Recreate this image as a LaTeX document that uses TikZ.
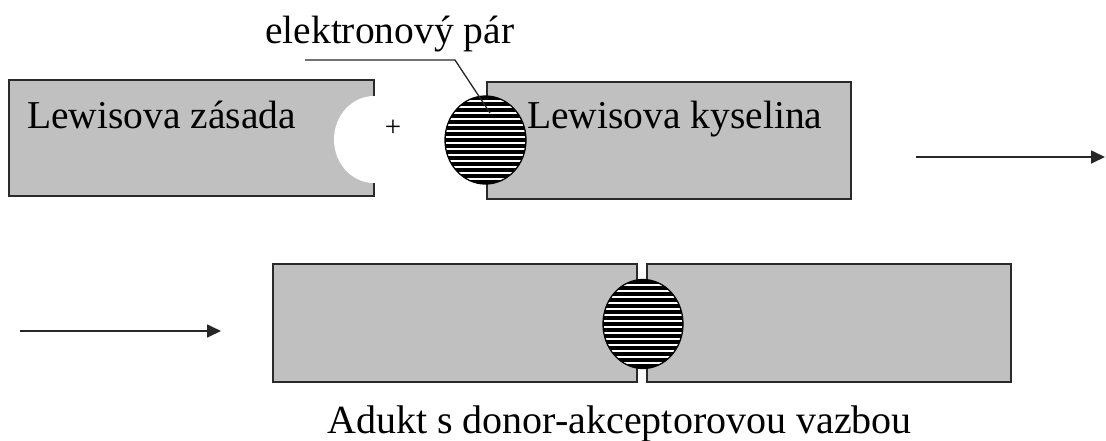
\documentclass[tikz,border=0pt]{standalone}
\usepackage{fontspec}
\setmainfont{Liberation Serif}
\usetikzlibrary{shapes.geometric,arrows.meta}
\definecolor{boxgray}{HTML}{C0C0C0}
\definecolor{edge}{HTML}{2A2A2A}
\tikzset{
  boxfill/.style={fill=boxgray},
  boxedge/.style={draw=edge,line width=1.5pt},
  lbl/.style={inner sep=0pt,anchor=base west,font=\fontsize{39.5}{46}\selectfont},
  hatch/.style={ellipse,draw=black,line width=1.3pt,fill=white,inner sep=0pt,
    minimum width=81pt,minimum height=88pt,
    path picture={\foreach \k in {-8,...,8}
      \draw[line width=3.2pt] ([xshift=-50pt,yshift=\k*6pt]path picture bounding box.center) -- ++(100pt,0);}},
  reactarrow/.style={draw=black!85,line width=1.7pt,-{Triangle[length=14pt,width=13pt]}}
}
\begin{document}
\begin{tikzpicture}[x=1pt,y=-1pt]
\useasboundingbox (0,0) rectangle (1106,440);

% Lewis base with notch
\fill[boxgray] (9,80) rectangle (374,196);
\fill[white] (374,139.5) ellipse [x radius=40pt, y radius=43.5pt];
\draw[boxedge] (374,96) -- (374,80) -- (9,80) -- (9,196) -- (374,196) -- (374,183);
\node[lbl] (base) at (27,128) {Lewisova zásada};

\node[inner sep=0pt,font=\fontsize{29}{30}\selectfont] (plus) at (393,128) {+};

% Lewis acid
\draw[boxedge,boxfill] (487,82) rectangle (851,199);
\node[hatch] (pair) at (485.5,140) {};
\node[lbl] (acid) at (527,128) {Lewisova kyselina};

% label with leader
\node[lbl] (pairlbl) at (265,43) {elektronový pár};
\coordinate (u1) at (305,60);
\coordinate (u2) at (455,60);
\coordinate (u3) at (490,113);
\draw[draw=black!85,line width=1.3pt] (u1) -- (u2) -- (u3);

% arrows
\coordinate (a1s) at (916,157);
\coordinate (a1e) at (1105,157);
\draw[reactarrow] (a1s) -- (a1e);
\coordinate (a2s) at (20,331);
\coordinate (a2e) at (221,331);
\draw[reactarrow] (a2s) -- (a2e);

% adduct
\draw[boxedge,boxfill] (273,264) rectangle (637,382);
\draw[boxedge,boxfill] (647,264) rectangle (1011,382);
\node[hatch,minimum width=80pt,minimum height=89pt] (pair2) at (643,324) {};
\node[lbl,font=\fontsize{40}{46}\selectfont] (adukt) at (327,433) {Adukt s donor-akceptorovou vazbou};
\end{tikzpicture}
\end{document}
